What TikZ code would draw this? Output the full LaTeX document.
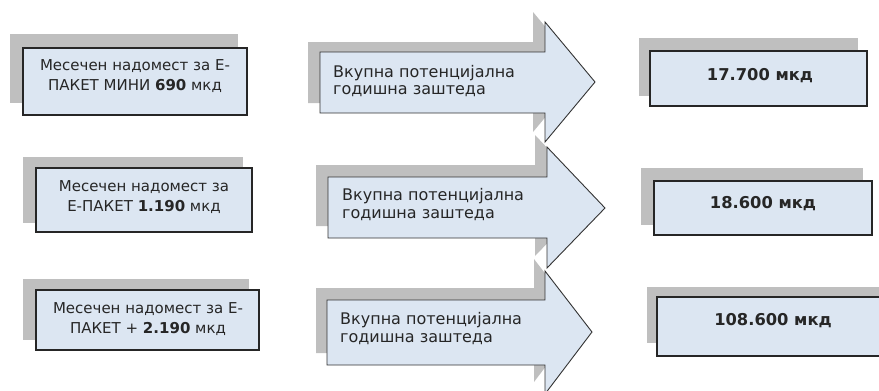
\documentclass[tikz,border=0pt]{standalone}
\usepackage{fontspec}
\setmainfont{DejaVu Sans}
\definecolor{boxfill}{HTML}{DCE6F2}
\definecolor{shade}{HTML}{BFBFBF}
\begin{document}
\begin{tikzpicture}[x=1pt,y=-1pt,
  shadowfill/.style={fill=shade,draw=none},
  boxshape/.style={fill=boxfill,draw=black!85,line width=1.3pt,inner sep=0pt},
  arrowshape/.style={fill=boxfill,draw=black!80,line width=0.9pt,line join=miter},
  lefttxt/.style={font=\fontsize{15}{20}\selectfont,align=center,inner sep=0pt,text=black!85},
  arrowtxt/.style={font=\fontsize{16}{17.5}\selectfont,align=left,inner sep=0pt,anchor=west,text=black!85},
  resulttxt/.style={font=\bfseries\fontsize{16.3}{19}\selectfont,inner sep=0pt,text=black!85}]
\useasboundingbox (0,0) rectangle (879,391);
\clip (0,0) rectangle (879,391);

% ---------- Row 1 ----------
\fill[shadowfill] (10,34) rectangle (238,103);
\node[boxshape,minimum width=224pt,minimum height=67pt] (l1) at (135,81.5) {};
\node[lefttxt] (l1t) at (135,76) {Месечен надомест за Е-\\ПАКЕТ МИНИ \textbf{690} мкд};

\fill[shadowfill,shift={(-12,-10)}] (320,52) -- (545,52) -- (545,22) -- (595,82) -- (545,142) -- (545,113) -- (320,113) -- cycle;
\draw[arrowshape] (320,52) -- (545,52) -- (545,22) -- (595,82) -- (545,142) -- (545,113) -- (320,113) -- cycle;
\node[arrowtxt] (a1t) at (333,81) {Вкупна потенцијална\\годишна заштеда};

\fill[shadowfill] (639,38) rectangle (858,96);
\node[boxshape,minimum width=217pt,minimum height=55pt] (r1) at (758.5,78.5) {};
\node[resulttxt] (r1t) at (760,76) {17.700 мкд};

% ---------- Row 2 ----------
\fill[shadowfill] (23,157) rectangle (243,223);
\node[boxshape,minimum width=216pt,minimum height=64pt] (l2) at (144,200) {};
\node[lefttxt] (l2t) at (144,197.5) {Месечен надомест за\\Е-ПАКЕТ \textbf{1.190} мкд};

\fill[shadowfill,shift={(-12,-12)}] (328,177) -- (547,177) -- (547,147) -- (605,208) -- (547,268) -- (547,238) -- (328,238) -- cycle;
\draw[arrowshape] (328,177) -- (547,177) -- (547,147) -- (605,208) -- (547,268) -- (547,238) -- (328,238) -- cycle;
\node[arrowtxt] (a2t) at (342,204.5) {Вкупна потенцијална\\годишна заштеда};

\fill[shadowfill] (641,168) rectangle (863,225);
\node[boxshape,minimum width=218pt,minimum height=54pt] (r2) at (763,208) {};
\node[resulttxt] (r2t) at (763,204) {18.600 мкд};

% ---------- Row 3 ----------
\fill[shadowfill] (23,279) rectangle (249,340);
\node[boxshape,minimum width=223pt,minimum height=60pt] (l3) at (147.5,320) {};
\node[lefttxt] (l3t) at (148,319.5) {Месечен надомест за Е-\\ПАКЕТ + \textbf{2.190} мкд};

\fill[shadowfill,shift={(-11,-12)}] (327,300) -- (545,300) -- (545,271) -- (592,332) -- (545,394) -- (545,365) -- (327,365) -- cycle;
\draw[arrowshape] (327,300) -- (545,300) -- (545,271) -- (592,332) -- (545,394) -- (545,365) -- (327,365) -- cycle;
\node[arrowtxt] (a3t) at (340,328.5) {Вкупна потенцијална\\годишна заштеда};

\fill[shadowfill] (647,287) rectangle (885,343);
\node[boxshape,minimum width=233pt,minimum height=59pt] (r3) at (773.5,326.5) {};
\node[resulttxt] (r3t) at (773,321) {108.600 мкд};
\end{tikzpicture}
\end{document}
